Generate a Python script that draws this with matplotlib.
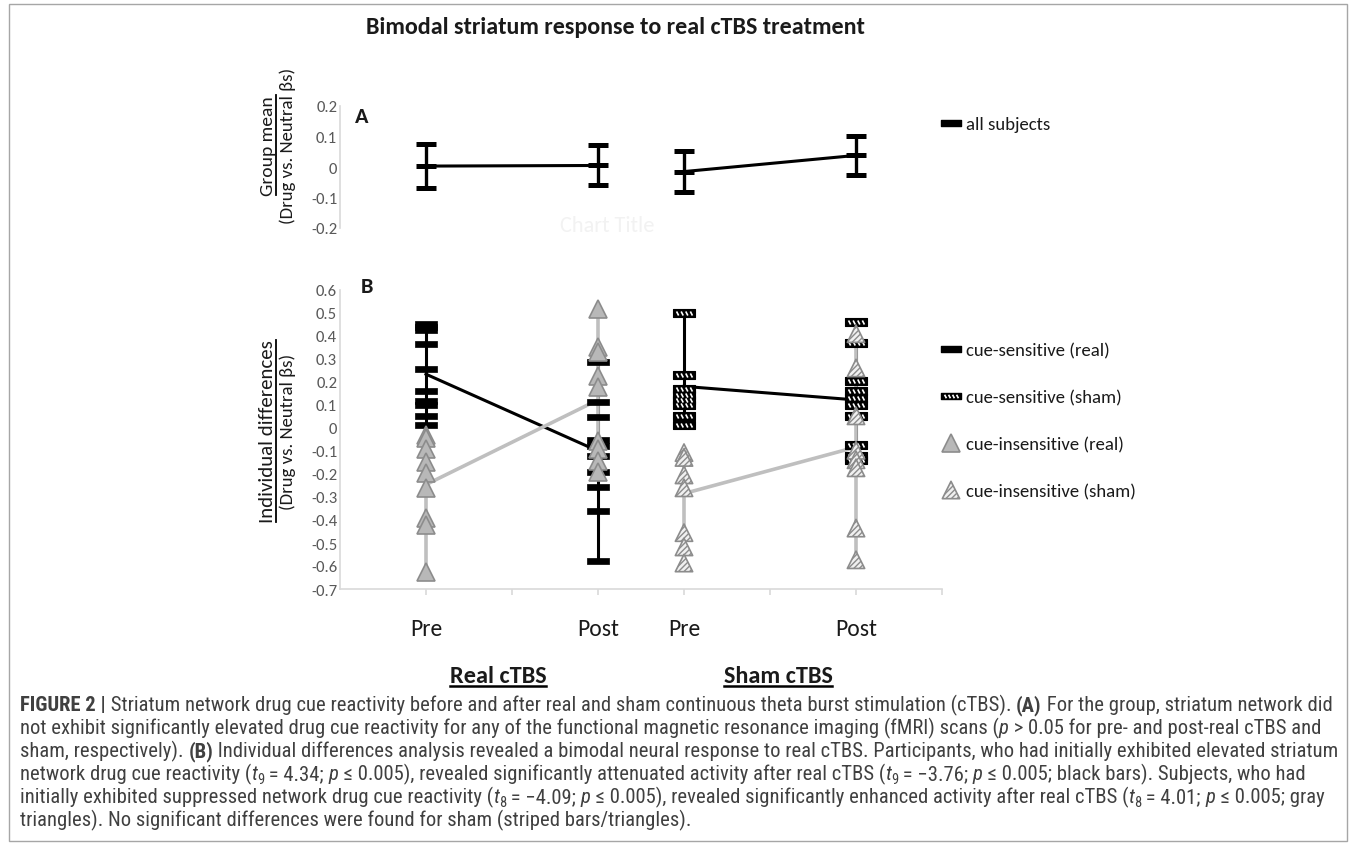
"""Bimodal striatum response to real cTBS: group mean (A) and individual differences (B)."""

import matplotlib

matplotlib.use("Agg")

import matplotlib.pyplot as plt
from matplotlib import font_manager
from matplotlib.patches import Rectangle
from matplotlib.path import Path

W, H = 1355, 845
PT = 0.72  # points per pixel at dpi=100

X_POS = [1, 3, 4, 6]
X_LABELS = ["Pre", "Post", "Pre", "Post"]
X_GAP_TICKS = [2, 5, 7]
CONDITIONS = ["Real cTBS", "Sham cTBS"]

# panel A: group mean with error bars
A_TICKS = [0.2, 0.1, 0.0, -0.1, -0.2]
GROUP_MEAN = [0.003, 0.005, -0.015, 0.038]
GROUP_UPPER = [0.077, 0.071, 0.054, 0.101]
GROUP_LOWER = [-0.068, -0.059, -0.082, -0.025]

# panel B: individual subjects (pre, post) per group
B_TICKS = [0.6, 0.5, 0.4, 0.3, 0.2, 0.1, 0.0, -0.1, -0.2, -0.3, -0.4, -0.5, -0.6, -0.7]
SENS_REAL_PRE = [0.452, 0.44, 0.426, 0.366, 0.255, 0.159, 0.118, 0.098, 0.053, 0.011]
SENS_REAL_POST = [0.289, 0.115, 0.05, -0.051, -0.08, -0.12, -0.19, -0.257, -0.36, -0.58]
SENS_SHAM_PRE = [0.5, 0.231, 0.168, 0.143, 0.122, 0.099, 0.053, 0.014]
SENS_SHAM_POST = [0.463, 0.37, 0.203, 0.162, 0.132, 0.102, 0.051, -0.072, -0.121, -0.138]
INSENS_REAL_PRE = [-0.032, -0.045, -0.09, -0.149, -0.194, -0.263, -0.39, -0.42, -0.625]
INSENS_REAL_POST = [0.519, 0.352, 0.33, 0.227, 0.178, -0.058, -0.093, -0.142, -0.191]
INSENS_SHAM_PRE = [-0.107, -0.128, -0.204, -0.26, -0.455, -0.517, -0.587]
INSENS_SHAM_POST = [0.41, 0.261, 0.053, -0.097, -0.138, -0.173, -0.435, -0.573]

# group means drawn as connecting lines
SENS_REAL_MEAN = [0.234, -0.10]
INSENS_REAL_MEAN = [-0.246, 0.122]
SENS_SHAM_MEAN = [0.181, 0.122]
INSENS_SHAM_MEAN = [-0.285, -0.083]

LEGEND_B = ["cue-sensitive (real)", "cue-sensitive (sham)",
            "cue-insensitive (real)", "cue-insensitive (sham)"]

CAPTION = [
    [("FIGURE 2 |", "b"), (" Striatum network drug cue reactivity before and after real and sham "
                           "continuous theta burst stimulation (cTBS). ", "n"),
     ("(A)", "b"), (" For the group, striatum network did", "n")],
    [("not exhibit significantly elevated drug cue reactivity for any of the functional magnetic "
      "resonance imaging (fMRI) scans (", "n"), ("p", "i"), (" > 0.05 for pre- and post-real cTBS and", "n")],
    [("sham, respectively). ", "n"), ("(B)", "b"),
     (" Individual differences analysis revealed a bimodal neural response to real cTBS. "
      "Participants, who had initially exhibited elevated striatum", "n")],
    [("network drug cue reactivity (", "n"), ("t", "i"), ("9", "s"), (" = 4.34; ", "n"), ("p", "i"),
     (" ≤ 0.005), revealed significantly attenuated activity after real cTBS (", "n"),
     ("t", "i"), ("9", "s"), (" = −3.76; ", "n"), ("p", "i"), (" ≤ 0.005; black bars). Subjects, who had", "n")],
    [("initially exhibited suppressed network drug cue reactivity (", "n"), ("t", "i"), ("8", "s"),
     (" = −4.09; ", "n"), ("p", "i"),
     (" ≤ 0.005), revealed significantly enhanced activity after real cTBS (", "n"),
     ("t", "i"), ("8", "s"), (" = 4.01; ", "n"), ("p", "i"), (" ≤ 0.005; gray", "n")],
    [("triangles). No significant differences were found for sham (striped bars/triangles).", "n")],
]

names = {f.name for f in font_manager.fontManager.ttflist}
CHART_FONT = "Carlito" if "Carlito" in names else "Lato"
CAPTION_FONT = next((n for n in ("Liberation Sans Narrow", "Roboto Condensed", "Open Sans Condensed",
                                 "Arial Narrow") if n in names), "Roboto")
plt.rcParams["font.family"] = [CHART_FONT, "DejaVu Sans"]

GRAY_TICK = "#595959"
AXIS_GRAY = "#d9d9d9"
TRI_FACE = "#b8b8b8"
TRI_EDGE = "#8c8c8c"
RANGE_GRAY = "#bfbfbf"
INK = "#1a1a1a"


def rect_marker(h):
    return Path([(-0.5, -h), (0.5, -h), (0.5, h), (-0.5, h), (-0.5, -h)], closed=True)


def stripe_marker(h):
    verts = [(-0.5, 0.0), (0.5, 0.0)]
    codes = [Path.MOVETO, Path.MOVETO]
    for cx in (-0.3, -0.1, 0.1, 0.3):
        verts += [(cx - 0.045, h * 0.55), (cx + 0.045, -h * 0.55)]
        codes += [Path.MOVETO, Path.LINETO]
    return Path(verts, codes)


DASH = rect_marker(0.12)
SHAM_DASH = rect_marker(0.16)
SHAM_STRIPES = stripe_marker(0.16)
DASH_SIZE = 23 * PT
LEG_DASH_SIZE = 20 * PT
TRI_SIZE = 12.5


def px_axes(fig, left, top, right, bottom):
    return fig.add_axes([left / W, 1 - bottom / H, (right - left) / W, (bottom - top) / H])


def style_value_axis(ax, ticks):
    ax.set_xlim(0, 7)
    ax.set_yticks(ticks)
    ax.set_yticklabels([f"{v:g}" for v in ticks])
    ax.tick_params(axis="y", length=0, labelsize=12, labelcolor=GRAY_TICK, pad=2)
    for side in ("top", "right"):
        ax.spines[side].set_visible(False)
    for side in ("left", "bottom"):
        ax.spines[side].set_color(AXIS_GRAY)
        ax.spines[side].set_linewidth(1.2)
    ax.patch.set_visible(False)


def dashes(ax, x, values, sham=False):
    xs = [x] * len(values)
    if sham:
        ax.plot(xs, values, ls="none", marker=SHAM_DASH, ms=DASH_SIZE, mfc="black",
                mec="black", mew=0.8, zorder=4, clip_on=False)
        ax.plot(xs, values, ls="none", marker=SHAM_STRIPES, ms=DASH_SIZE, mfc="none",
                mec="white", mew=1.2, zorder=4.1, clip_on=False)
    else:
        ax.plot(xs, values, ls="none", marker=DASH, ms=DASH_SIZE, mfc="black",
                mec="black", mew=0.5, zorder=4, clip_on=False)


def triangles(ax, x, values, sham=False):
    xs = [x] * len(values)
    if sham:
        ax.scatter(xs, values, marker="^", s=TRI_SIZE ** 2, facecolor="#f0f0f0",
                   edgecolor=TRI_EDGE, linewidth=1.2, hatch="//////", zorder=5, clip_on=False)
    else:
        ax.plot(xs, values, ls="none", marker="^", ms=TRI_SIZE, mfc=TRI_FACE, mec=TRI_EDGE,
                mew=1.2, zorder=5, clip_on=False)


fig = plt.figure(figsize=(W / 100, H / 100), dpi=100)
fig.patch.set_facecolor("white")

# ---- panel A
ax_a = px_axes(fig, 340, 107, 942, 229)
ax_a.set_ylim(-0.2, 0.2)
style_value_axis(ax_a, A_TICKS)
ax_a.spines["bottom"].set_visible(False)
ax_a.set_xticks([])
for sl in (slice(0, 2), slice(2, 4)):
    mean = GROUP_MEAN[sl]
    err = [[m - lo for m, lo in zip(mean, GROUP_LOWER[sl])],
           [hi - m for m, hi in zip(mean, GROUP_UPPER[sl])]]
    ax_a.errorbar(X_POS[sl], mean, yerr=err, color="black", lw=2.2, elinewidth=2.4,
                  capsize=7, capthick=3.6, marker="_", ms=14, mew=3.6, clip_on=False)

# ---- panel B
ax_b = px_axes(fig, 340, 291, 942, 590)
ax_b.set_ylim(-0.7, 0.6)
style_value_axis(ax_b, B_TICKS)
ax_b.set_xticks(X_POS)
ax_b.set_xticklabels(X_LABELS)
ax_b.set_xticks(X_GAP_TICKS, minor=True)
ax_b.tick_params(axis="x", which="both", length=4, width=1.2, color=AXIS_GRAY, direction="out")
ax_b.tick_params(axis="x", which="major", labelsize=17, labelcolor=INK, pad=17)

sens = [(X_POS[0], SENS_REAL_PRE, False), (X_POS[1], SENS_REAL_POST, False),
        (X_POS[2], SENS_SHAM_PRE, True), (X_POS[3], SENS_SHAM_POST, True)]
insens = [(X_POS[0], INSENS_REAL_PRE, False), (X_POS[1], INSENS_REAL_POST, False),
          (X_POS[2], INSENS_SHAM_PRE, True), (X_POS[3], INSENS_SHAM_POST, True)]

for x, vals, sham in sens:
    ax_b.vlines(x, min(vals), max(vals), color="black", lw=2.2, zorder=1)
    dashes(ax_b, x, vals, sham)
for x, vals, sham in insens:
    ax_b.vlines(x, min(vals), max(vals), color=RANGE_GRAY, lw=2.6, zorder=2)
    triangles(ax_b, x, vals, sham)

ax_b.plot(X_POS[0:2], SENS_REAL_MEAN, color="black", lw=2.2, zorder=3)
ax_b.plot(X_POS[0:2], INSENS_REAL_MEAN, color=RANGE_GRAY, lw=2.6, zorder=3)
ax_b.plot(X_POS[2:4], SENS_SHAM_MEAN, color="black", lw=2.2, zorder=3)
ax_b.plot(X_POS[2:4], INSENS_SHAM_MEAN, color=RANGE_GRAY, lw=2.6, zorder=3)

# ---- overlay in pixel coordinates for labels, legends and caption
ov = fig.add_axes([0, 0, 1, 1], zorder=10)
ov.set_xlim(0, W)
ov.set_ylim(H, 0)
ov.axis("off")
renderer = fig.canvas.get_renderer()

ov.add_patch(Rectangle((8.5, 4.5), W - 17, H - 8, fill=False, edgecolor="#a6a6a6", lw=1))
ov.text(615, 27, "Bimodal striatum response to real cTBS treatment", ha="center", va="center",
        fontsize=17.3, fontweight="bold", color=INK)
ov.text(607, 226, "Chart Title", ha="center", va="center", fontsize=16, color="#f2f2f2")
ov.text(362, 117, "A", ha="center", va="center", fontsize=16, fontweight="bold", color=INK)
ov.text(367, 287, "B", ha="center", va="center", fontsize=16, fontweight="bold", color=INK)


def underline_rotated(t, gap=3):
    bb = t.get_window_extent(renderer)
    x = t.get_position()[0] + gap
    ov.plot([x, x], [H - bb.y0, H - bb.y1], color="black", lw=1.3)


for first, cy, size in (("Group mean", 146, 14), ("Individual differences", 432, 15)):
    t = ov.text(273, cy, first, rotation=90, rotation_mode="anchor", ha="center",
                va="baseline", fontsize=size, color=INK)
    underline_rotated(t)
    ov.text(293, cy, "(Drug vs. Neutral βs)", rotation=90, rotation_mode="anchor",
            ha="center", va="baseline", fontsize=13.5, color=INK)

for label, cx in zip(CONDITIONS, (498, 778)):
    t = ov.text(cx, 683, label, ha="center", va="baseline", fontsize=17.5, fontweight="bold",
                color=INK)
    bb = t.get_window_extent(renderer)
    ov.plot([bb.x0, bb.x1], [687, 687], color="black", lw=1.8)

# legends (swatches drawn in pixel space)
LEG_X, TXT_X = 951, 966
ov.plot([LEG_X], [124], marker=SHAM_DASH, ms=LEG_DASH_SIZE, mfc="black", mec="black")
ov.text(TXT_X, 125, "all subjects", va="center", fontsize=13.5, color=INK)
leg_y = [350, 397, 444, 491]
ov.plot([LEG_X], [leg_y[0]], marker=SHAM_DASH, ms=LEG_DASH_SIZE, mfc="black", mec="black")
ov.plot([LEG_X], [leg_y[1]], marker=SHAM_DASH, ms=LEG_DASH_SIZE, mfc="black", mec="black")
ov.plot([LEG_X], [leg_y[1]], marker=SHAM_STRIPES, ms=LEG_DASH_SIZE, mfc="none", mec="white", mew=1.2)
ov.plot([LEG_X], [leg_y[2]], marker="^", ms=TRI_SIZE, mfc=TRI_FACE, mec=TRI_EDGE, mew=1.2)
ov.scatter([LEG_X], [leg_y[3]], marker="^", s=TRI_SIZE ** 2, facecolor="#f0f0f0",
           edgecolor=TRI_EDGE, linewidth=1.2, hatch="//////")
for label, y in zip(LEGEND_B, leg_y):
    ov.text(TXT_X, y + 1, label, va="center", fontsize=13.5, color=INK)


# caption: runs of normal / bold / italic / subscript text laid out left to right
def run_props(kind, size):
    props = dict(family=[CAPTION_FONT, "DejaVu Sans"], color="#404040", fontsize=size)
    if kind == "b":
        props["fontweight"] = "bold"
    elif kind == "i":
        props["fontstyle"] = "italic"
    elif kind == "s":
        props["fontsize"] = size * 0.7
    return props


def advance(text, props):
    t1 = ov.text(0, 0, text + "x", **props)
    t2 = ov.text(0, 0, "x", **props)
    w = t1.get_window_extent(renderer).width - t2.get_window_extent(renderer).width
    t1.remove()
    t2.remove()
    return w


def line_width(runs, size):
    return sum(advance(txt, run_props(kind, size)) for txt, kind in runs)


base = 12.0
cap_size = base * 1310 / line_width(CAPTION[0], base)
for i, runs in enumerate(CAPTION):
    x, y = 20.0, 711 + 23 * i
    for txt, kind in runs:
        props = run_props(kind, cap_size)
        dy = 4 if kind == "s" else 0
        ov.text(x, y + dy, txt, va="baseline", **props)
        x += advance(txt, props)

fig.savefig("out.png", dpi=100)
